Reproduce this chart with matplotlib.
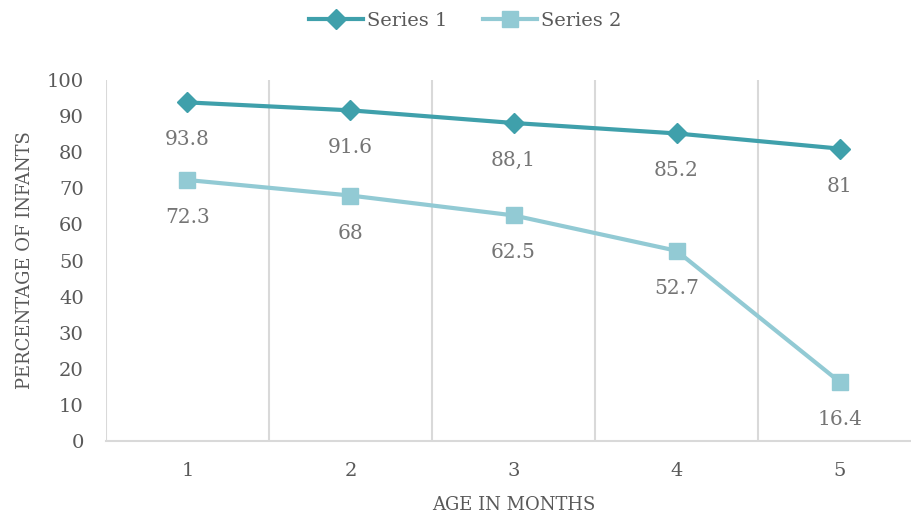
import matplotlib.pyplot as plt
from matplotlib.ticker import FixedLocator

ages = [1, 2, 3, 4, 5]
series1 = [93.8, 91.6, 88.1, 85.2, 81]
series2 = [72.3, 68, 62.5, 52.7, 16.4]
labels1 = ['93.8', '91.6', '88,1', '85.2', '81']
labels2 = ['72.3', '68', '62.5', '52.7', '16.4']

c1 = '#3FA0AB'
c2 = '#92CAD4'
grid_c = '#D9D9D9'
text_c = '#595959'

plt.rcParams['font.family'] = ['DejaVu Serif']

fig = plt.figure(figsize=(9.12, 5.23), dpi=100)
ax = fig.add_axes([0.1162, 0.1568, 0.8937, 0.6902])

ax.plot(ages, series1, color=c1, lw=3, marker='D', ms=10, label='Series 1', zorder=3)
ax.plot(ages, series2, color=c2, lw=3, marker='s', ms=12, label='Series 2', zorder=3)

for x, y, t in zip(ages, series1, labels1):
    ax.annotate(t, (x, y), xytext=(0, -27), textcoords='offset points',
                ha='center', va='center', fontsize=14.5, color='#757575')
for x, y, t in zip(ages, series2, labels2):
    ax.annotate(t, (x, y), xytext=(0, -27), textcoords='offset points',
                ha='center', va='center', fontsize=14.5, color='#757575')

ax.set_xlim(0.5, 5.5)
ax.set_ylim(0, 100)
ax.set_xticks(ages)
ax.set_yticks(range(0, 101, 10))
ax.xaxis.set_minor_locator(FixedLocator([0.5, 1.5, 2.5, 3.5, 4.5, 5.5]))
ax.grid(axis='x', which='minor', color=grid_c, lw=1.5)
ax.tick_params(which='both', length=0, labelsize=14, labelcolor=text_c)
ax.tick_params(axis='x', pad=15)
ax.tick_params(axis='y', pad=16)

for s in ['top', 'right', 'left']:
    ax.spines[s].set_visible(False)
ax.spines['bottom'].set_color(grid_c)
ax.spines['bottom'].set_linewidth(1.5)

ax.set_xlabel('AGE IN MONTHS', fontsize=13, color=text_c, labelpad=12)
ax.set_ylabel('PERCENTAGE OF INFANTS', fontsize=13, color=text_c, labelpad=9)

fig.legend(loc='upper center', bbox_to_anchor=(0.51, 1.01), ncol=2, frameon=False,
           fontsize=14, labelcolor=text_c, handlelength=2.8, columnspacing=1.8,
           handletextpad=0.2)

fig.savefig('out.png', dpi=100)
